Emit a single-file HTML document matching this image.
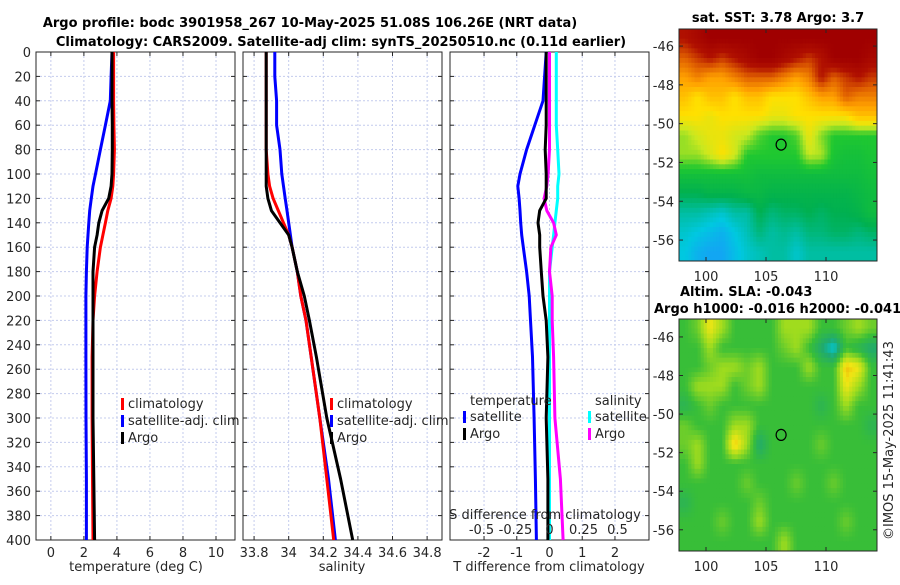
<!DOCTYPE html>
<html><head><meta charset="utf-8"><style>
body{margin:0;background:#fff;width:900px;height:580px;overflow:hidden}
svg{font-family:"DejaVu Sans","Liberation Sans",sans-serif}
</style></head><body>
<svg id="s" width="900" height="580" xmlns="http://www.w3.org/2000/svg"></svg>
<script>
// ---- data ----
const depths=[0,20,40,60,80,100,110,120,130,140,150,160,180,200,220,250,300,350,400];
const tempArgo=[3.7,3.7,3.7,3.72,3.72,3.7,3.65,3.5,3.1,2.9,2.8,2.65,2.55,2.55,2.55,2.55,2.55,2.6,2.65];
const tempClim=[3.8,3.8,3.8,3.82,3.85,3.8,3.75,3.65,3.45,3.3,3.15,3.0,2.8,2.65,2.55,2.5,2.5,2.52,2.55];
const tempSat=[3.7,3.65,3.6,3.3,3.0,2.7,2.55,2.45,2.35,2.3,2.25,2.2,2.15,2.12,2.12,2.12,2.13,2.15,2.15];
const salArgo=[33.87,33.87,33.87,33.87,33.87,33.87,33.87,33.88,33.9,33.95,34.0,34.02,34.05,34.09,34.12,34.16,34.22,34.3,34.37];
const salClim=[33.87,33.87,33.87,33.87,33.87,33.88,33.89,33.91,33.94,33.97,34.0,34.02,34.05,34.07,34.1,34.13,34.18,34.22,34.26];
const salSat=[33.92,33.92,33.93,33.93,33.95,33.96,33.97,33.98,33.99,34.0,34.01,34.02,34.05,34.07,34.1,34.13,34.18,34.23,34.27];
const tdiffSat=[-0.1,-0.15,-0.2,-0.45,-0.7,-0.9,-0.97,-0.93,-0.9,-0.88,-0.85,-0.8,-0.7,-0.62,-0.58,-0.52,-0.47,-0.43,-0.4];
const tdiffArgo=[-0.1,-0.1,-0.1,-0.1,-0.13,-0.1,-0.1,-0.1,-0.3,-0.35,-0.3,-0.3,-0.25,-0.2,-0.1,-0.05,-0.1,-0.05,-0.05];
const sdiffSat=[0.05,0.05,0.05,0.05,0.06,0.07,0.06,0.06,0.05,0.04,0.03,0.02,0.0,0.0,0.0,0.0,0.0,0.0,0.0];
const sdiffArgo=[0.0,0.0,0.0,0.0,0.0,-0.01,-0.02,-0.04,-0.02,0.03,0.05,0.01,0.0,0.02,0.02,0.03,0.04,0.08,0.1];
const depthTicks=[0,20,40,60,80,100,120,140,160,180,200,220,240,260,280,300,320,340,360,380,400];
const tTicks=[0,2,4,6,8,10];
const sTicks=[33.8,34,34.2,34.4,34.6,34.8];
const dTicks=[-2,-1,0,1,2];
const sdTickLabels=["-0.5","-0.25","0","0.25","0.5"];
const sdTicks=[-0.5,-0.25,0,0.25,0.5];
const sstGrid=[
[8,8.5,9,9,9,9,9,9,9,9,9,9,9,9,9,9],
[7,7.5,8,7.5,8,8.5,9,9,8.5,8,7.5,8,9,9,9,8.5],
[6,6.5,6,6,6.5,7,7,7,6.5,6,6.5,8,7,7.5,8,7.5],
[5.5,5,5.5,5.5,5,5.5,5.5,5,5,5,5.5,6,6,7,6.5,6.5],
[5,5,4.8,5,5,5,5,4.8,4.8,5,5,5,5,5,5.5,5.5],
[4.3,4.6,4.8,4.8,4.6,4.5,4,3.8,3.8,4,4.8,4.2,3.8,3.8,3.8,3.8],
[4.3,4.3,4.6,5,4.6,3.8,3.8,3.8,3.8,3.8,4.5,4.4,3.7,3.6,3.6,3.7],
[3.6,3.6,3.6,3.6,3.6,3.6,3.5,3.5,3.5,3.5,3.5,3.5,3.5,3.5,3.5,3.6],
[3.2,3.2,3.3,3.3,3.3,3.4,3.4,3.3,3.3,3.3,3.3,3.3,3.3,3.3,3.4,3.5],
[2.8,2.8,2.7,2.6,2.8,2.8,3.2,3.0,3.1,3.1,3.2,3.1,3.2,3.2,3.3,3.5],
[2.6,2.5,2.4,2.3,2.5,2.7,3.0,2.8,2.9,2.8,3.0,3.0,3.1,3.1,3.0,3.1],
[2.5,2.3,2.2,2.2,2.4,2.6,2.7,2.8,2.8,2.6,2.8,2.8,2.8,2.8,2.8,2.8]];
const slaGrid=[
[0,0.05,0.2,0.1,0,0,0,0,0.1,0.1,0.1,0,0,0.05,0.1,0.05],
[0,0,0.1,0,0,0,0,0,0.05,0.1,0,-0.1,-0.2,0,-0.05,-0.1],
[0,0,0.05,0.1,0.1,0.05,0.1,0,0,0,0.1,0,0,0.25,0.2,0],
[0,0.1,0.1,0.1,0,0.05,0.1,0,0,0,0,0,0,0.2,0.1,0],
[-0.05,0,0.05,0,0,0,0,0,0,0,0,-0.05,0,0.1,0,0],
[0.05,0,0,0,0.1,0.1,0,0,0,0,0,0,0,0,0,-0.05],
[0.05,0.1,0,0,0.25,0.1,-0.1,0,0,0,0,0.05,0,0,0,0],
[0,0.1,0,0,0,0,0,0,0,0,0,0,0,0,0,0],
[0,0,0,0,0,0.05,0,0,0,0.05,0,0,0.05,0,0,0],
[-0.05,0,0,0,0,0,0.05,0,0,0,0,0,0,0,0,0],
[0,0,0,0.05,0,0,0.1,0,0,0,0,0,0,0.05,0,0],
[0,0,0,0,0,0,0,0,0.1,0,0,0,0,0,0,0]];
const latTicks=[-46,-48,-50,-52,-54,-56];
const lonTicks=[100,105,110];
const argoLon=106.26, argoLat=-51.08;

// ---- helpers ----
const S=document.getElementById('s');const NS='http://www.w3.org/2000/svg';
function el(tag,attrs,parent){const e=document.createElementNS(NS,tag);for(const k in attrs)e.setAttribute(k,attrs[k]);(parent||S).appendChild(e);return e;}
function txt(x,y,s,o){const t=el('text',Object.assign({x:x,y:y,'font-size':13,fill:'#262626'},o||{}));t.textContent=s;return t;}
const Y0=52,Y1=540;
function yS(d){return Y0+(d/400)*(Y1-Y0);}

function panel(name,x0,x1,xmin,xmax,ticks,tickLab){
  const g=el('g',{});
  
  
  const xs=v=>x0+(v-xmin)/(xmax-xmin)*(x1-x0);
  el('rect',{x:x0,y:Y0,width:x1-x0,height:Y1-Y0,fill:'#fff'},g);
  depthTicks.forEach(d=>{el('line',{x1:x0,x2:x1,y1:yS(d),y2:yS(d),stroke:'#c4cced','stroke-width':1,'stroke-dasharray':'2,2'},g);});
  ticks.forEach(v=>{el('line',{x1:xs(v),x2:xs(v),y1:Y0,y2:Y1,stroke:'#c4cced','stroke-width':1,'stroke-dasharray':'2,2'},g);});
  el('rect',{x:x0,y:Y0,width:x1-x0,height:Y1-Y0,fill:'none',stroke:'#262626','stroke-width':1},g);
  depthTicks.forEach(d=>{el('line',{x1:x0,x2:x0+4,y1:yS(d),y2:yS(d),stroke:'#262626'},g);el('line',{x1:x1,x2:x1-4,y1:yS(d),y2:yS(d),stroke:'#262626'},g);});
  ticks.forEach((v,i)=>{el('line',{x1:xs(v),x2:xs(v),y1:Y1,y2:Y1-4,stroke:'#262626'},g);el('line',{x1:xs(v),x2:xs(v),y1:Y0,y2:Y0+4,stroke:'#262626'},g);
    const t=txt(xs(v),Y1+17,tickLab?tickLab[i]:String(v),{'text-anchor':'middle'});
    
    });
  return xs;
}
function line(name,xs,vals,color,w){
  const pts=vals.map((v,i)=>xs(v).toFixed(1)+','+yS(depths[i]).toFixed(1)).join(' ');
  const p=el('polyline',{points:pts,fill:'none',stroke:color,'stroke-width':w||3,'stroke-linejoin':'round'});
  
  
}
function legend(x,y,items){
  items.forEach((it,i)=>{
    el('rect',{x:x,y:y+i*17-10,width:3,height:12,fill:it[1]});
    const t=txt(x+7,y+i*17,it[0]);
    
    
  });
}

// titles
let t=txt(310,27,'Argo profile: bodc 3901958_267 10-May-2025 51.08S 106.26E (NRT data)',{'font-weight':'bold','text-anchor':'middle',fill:'#000'});

t=txt(341,46,'Climatology: CARS2009. Satellite-adj clim: synTS_20250510.nc (0.11d earlier)',{'font-weight':'bold','text-anchor':'middle',fill:'#000'});


// depth labels
depthTicks.forEach(d=>{const l=txt(31,yS(d)+5,String(d),{'text-anchor':'end'});});

// panel 1 temperature
const xT=panel('temperature-panel',36,235,-0.9,11.15,tTicks);
line('temp-satellite',xT,tempSat,'#0000ff');
line('temp-climatology',xT,tempClim,'#ff0000');
line('temp-argo',xT,tempArgo,'#000000');
t=txt(136,571,'temperature (deg C)',{'text-anchor':'middle'});
legend(121,408,[['climatology','#ff0000'],['satellite-adj. clim','#0000ff'],['Argo','#000']]);

// panel 2 salinity
const xS=panel('salinity-panel',243,442,33.736,34.886,sTicks);
line('sal-satellite',xS,salSat,'#0000ff');
line('sal-climatology',xS,salClim,'#ff0000');
line('sal-argo',xS,salArgo,'#000000');
t=txt(342,571,'salinity',{'text-anchor':'middle'});
legend(330,408,[['climatology','#ff0000'],['satellite-adj. clim','#0000ff'],['Argo','#000']]);

// panel 3 differences
const xD=panel('difference-panel',450,649,-3.04,3.04,dTicks);
const xSD=v=>549.5+v*136;
line('tdiff-satellite',xD,tdiffSat,'#0000ff');
line('sdiff-satellite',xSD,sdiffSat,'#00ffff');
line('sdiff-argo',xSD,sdiffArgo,'#ff00ff');
line('tdiff-argo',xD,tdiffArgo,'#000000');
t=txt(470,405,'temperature');
t=txt(595,405,'salinity');
legend(463,421,[['satellite','#0000ff'],['Argo','#000']]);
legend(588,421,[['satellite','#00ffff'],['Argo','#ff00ff']]);
t=txt(545,519,'S difference from climatology',{'text-anchor':'middle'});
sdTicks.forEach((v,i)=>{const l=txt(xSD(v),534,sdTickLabels[i],{'text-anchor':'middle'});});
t=txt(549,571,'T difference from climatology',{'text-anchor':'middle'});

// maps
function sstColor(v){const st=[[2.0,[30,144,255]],[2.5,[0,200,224]],[3.2,[0,176,80]],[3.8,[32,200,48]],[4.5,[200,232,32]],[5,[255,224,0]],[6,[255,160,0]],[7,[224,96,0]],[8,[176,16,0]],[9,[160,0,0]]];return interp(st,v);}
function slaColor(v){const st=[[-0.2,[0,200,220]],[-0.1,[32,170,110]],[0,[56,190,56]],[0.1,[160,220,30]],[0.2,[240,230,20]],[0.3,[240,150,0]]];return interp(st,v);}
function interp(st,v){if(v<=st[0][0])return 'rgb('+st[0][1]+')';for(let i=1;i<st.length;i++){if(v<=st[i][0]){const f=(v-st[i-1][0])/(st[i][0]-st[i-1][0]);const c=st[i-1][1].map((a,k)=>Math.round(a+f*(st[i][1][k]-a)));return 'rgb('+c+')';}}return 'rgb('+st[st.length-1][1]+')';}
function sample(grid,fr,fc){const nr=grid.length,nc=grid[0].length;
  fr=Math.max(0,Math.min(nr-1,fr));fc=Math.max(0,Math.min(nc-1,fc));
  const r0=Math.floor(fr),c0=Math.floor(fc),r1=Math.min(nr-1,r0+1),c1=Math.min(nc-1,c0+1),a=fr-r0,b=fc-c0;
  return grid[r0][c0]*(1-a)*(1-b)+grid[r0][c1]*(1-a)*b+grid[r1][c0]*a*(1-b)+grid[r1][c1]*a*b;}
function map(name,top,bottom,latTop,latBot,grid,cf){
  const x0=679,x1=877,lonMin=97.75,lonMax=114.25,up=4;
  const g=el('g',{});
  
  
  const mx=lon=>x0+(lon-lonMin)/(lonMax-lonMin)*(x1-x0);
  const my=lat=>top+(latTop-lat)/(latTop-latBot)*(bottom-top);
  const nr=grid.length*up,nc=grid[0].length*up,cw=(x1-x0)/nc,ch=(bottom-top)/nr;
  for(let r=0;r<nr;r++)for(let c=0;c<nc;c++){
    const v=sample(grid,(r+0.5)/up-0.5,(c+0.5)/up-0.5);
    const cell=el('rect',{x:(x0+c*cw).toFixed(2),y:(top+r*ch).toFixed(2),width:(cw+0.5).toFixed(2),height:(ch+0.5).toFixed(2),fill:cf(v)},g);
    
    
  }
  el('rect',{x:x0,y:top,width:x1-x0,height:bottom-top,fill:'none',stroke:'#262626'},g);
  latTicks.forEach(l=>{el('line',{x1:x1,x2:x1-4,y1:my(l),y2:my(l),stroke:'#262626'},g);el('line',{x1:x0,x2:x0+4,y1:my(l),y2:my(l),stroke:'#262626'},g);
    const tl=txt(674,my(l)+5,String(l),{'text-anchor':'end'});});
  lonTicks.forEach(l=>{el('line',{x1:mx(l),x2:mx(l),y1:bottom,y2:bottom-4,stroke:'#262626'},g);el('line',{x1:mx(l),x2:mx(l),y1:top,y2:top+4,stroke:'#262626'},g);
    const tl=txt(mx(l),bottom+20,String(l),{'text-anchor':'middle'});});
  const c=el('ellipse',{cx:mx(argoLon),cy:my(argoLat),rx:5,ry:5.5,fill:'none',stroke:'#000','stroke-width':1.2},g);
  
  
  return g;
}
map('sst-map',29,261,-45.12,-57.08,sstGrid,sstColor);
t=txt(778,22,'sat. SST: 3.78 Argo: 3.7',{'font-weight':'bold','text-anchor':'middle',fill:'#000'});
map('sla-map',319,551,-45.07,-57.1,slaGrid,slaColor);
t=txt(680,296,'Altim. SLA: -0.043',{'font-weight':'bold',fill:'#000'});
t=txt(654,313,'Argo h1000: -0.016 h2000: -0.041',{'font-weight':'bold',fill:'#000'});
t=txt(0,0,'©IMOS 15-May-2025 11:41:43',{transform:'translate(893,540) rotate(-90)'});
</script>
</body></html>
